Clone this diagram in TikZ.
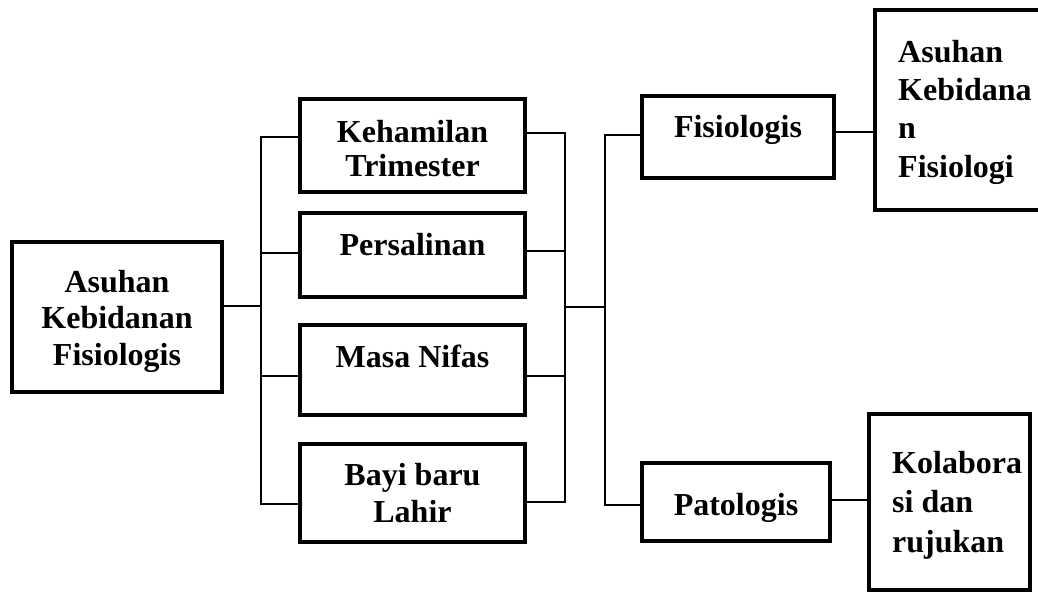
\documentclass[tikz,border=0pt]{standalone}
\usepackage{fontspec}
\setmainfont{Liberation Serif}
\begin{document}
\begin{tikzpicture}[x=1pt,y=-1pt,
  box/.style={draw, line width=4.8pt, inner sep=0pt, rectangle},
  conn/.style={line width=1.5pt},
  txt/.style={font=\fontsize{32}{37}\selectfont\bfseries, inner sep=0pt, anchor=base},
  txtl/.style={txt, anchor=base west}]
\useasboundingbox (0,0) rectangle (1038,597);
\fill[white] (0,0) rectangle (1038,597);
% boxes
\node[box, minimum width=210pt, minimum height=150pt] (A) at (117,317) {};
\node[box, minimum width=225pt, minimum height=93pt] (K) at (412.5,145.5) {};
\node[box, minimum width=225pt, minimum height=84pt] (P) at (412.5,255) {};
\node[box, minimum width=225pt, minimum height=90pt] (N) at (412.5,370) {};
\node[box, minimum width=225pt, minimum height=98pt] (B) at (412.5,493) {};
\node[box, minimum width=192pt, minimum height=82pt] (F) at (738,137) {};
\node[box, minimum width=175pt, minimum height=200pt] (AKF) at (962.5,110) {};
\node[box, minimum width=188pt, minimum height=78pt] (Pt) at (736,502) {};
\node[box, minimum width=161pt, minimum height=176pt] (Kol) at (949.5,502) {};
% texts
\node[txt] (tA1) at (117,292) {Asuhan};
\node[txt] (tA2) at (117,328) {Kebidanan};
\node[txt] (tA3) at (117,365) {Fisiologis};
\node[txt] (tK1) at (412.5,142) {Kehamilan};
\node[txt] (tK2) at (412.5,176) {Trimester};
\node[txt] (tP1) at (412.5,255) {Persalinan};
\node[txt] (tN1) at (412.5,367) {Masa Nifas};
\node[txt] (tB1) at (412.5,485) {Bayi baru};
\node[txt] (tB2) at (412.5,522) {Lahir};
\node[txt] (tF1) at (738,137) {Fisiologis};
\node[txt] (tPt1) at (736,515) {Patologis};
\node[txtl] (tX1) at (898,62) {Asuhan};
\node[txtl] (tX2) at (898,100) {Kebidana};
\node[txtl] (tX3) at (898,138) {n};
\node[txtl] (tX4) at (898,177) {Fisiologi};
\node[txtl] (tY1) at (892,473) {Kolabora};
\node[txtl] (tY2) at (892,512) {si dan};
\node[txtl] (tY3) at (892,552) {rujukan};
% bus coordinates
\coordinate (lbA) at (261,306);
\coordinate (lb1) at (261,137);
\coordinate (lb2) at (261,253);
\coordinate (lb3) at (261,376);
\coordinate (lb4) at (261,504);
\coordinate (rb1) at (565,133);
\coordinate (rb2) at (565,251);
\coordinate (rb3) at (565,376);
\coordinate (rb4) at (565,502);
\coordinate (rbM) at (565,307);
\coordinate (sbM) at (605,307);
\coordinate (sb1) at (605,135);
\coordinate (sb2) at (605,505);
\coordinate (c1) at (855,132);
\coordinate (c2) at (850,500);
% connectors
\draw[conn] (lbA -| A.east) -- (lbA);
\draw[conn] (lb1 -| K.west) -- (lb1) -- (lb4) -- (lb4 -| B.west);
\draw[conn] (lb2) -- (lb2 -| P.west);
\draw[conn] (lb3) -- (lb3 -| N.west);
\draw[conn] (rb1 -| K.east) -- (rb1) -- (rb4) -- (rb4 -| B.east);
\draw[conn] (rb2 -| P.east) -- (rb2);
\draw[conn] (rb3 -| N.east) -- (rb3);
\draw[conn] (rbM) -- (sbM);
\draw[conn] (sb1 -| F.west) -- (sb1) -- (sb2) -- (sb2 -| Pt.west);
\draw[conn] (c1 -| F.east) -- (c1 -| AKF.west);
\draw[conn] (c2 -| Pt.east) -- (c2 -| Kol.west);
\end{tikzpicture}
\end{document}
